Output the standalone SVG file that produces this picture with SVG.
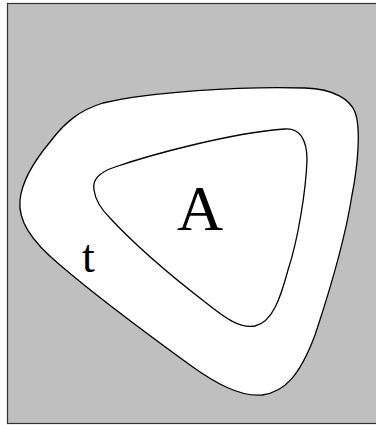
<svg xmlns="http://www.w3.org/2000/svg" width="376" height="425" viewBox="0 0 376 425">
<style>
.curve{fill:#fff;stroke:#000;stroke-width:1.3}
.lbl{font-family:"Liberation Serif","Times New Roman",serif;fill:#000}
</style>
<rect x="7.5" y="3.5" width="380" height="420" fill="#bfbfbf" stroke="#333" stroke-width="1.2"/>
<g id="outer">
<path class="curve" d="M 103,103 C 150,92 240,86 305,88 C 335,89 350,100 355,112 C 361,128 358,165 352,195 C 345,240 330,290 315,335 C 300,375 285,392 262,395 C 240,397 215,383 190,365 C 150,336 95,295 60,265 C 30,240 18,220 20,200 C 22,180 35,160 50,142 C 65,122 80,110 103,103 Z"/>
</g>
<g id="inner">
<path class="curve" d="M 94,190 C 92,180 100,172 115,167 C 150,155 230,133 285,129 C 300,128 307,140 307,160 C 306,190 298,240 288,270 C 280,300 272,322 255,326 C 240,329 225,318 205,302 C 170,275 135,245 110,218 C 100,208 95,198 94,190 Z"/>
</g>
<text class="lbl" x="200" y="230" font-size="64" text-anchor="middle">A</text>
<text class="lbl" x="82" y="272" font-size="46">t</text>
</svg>
